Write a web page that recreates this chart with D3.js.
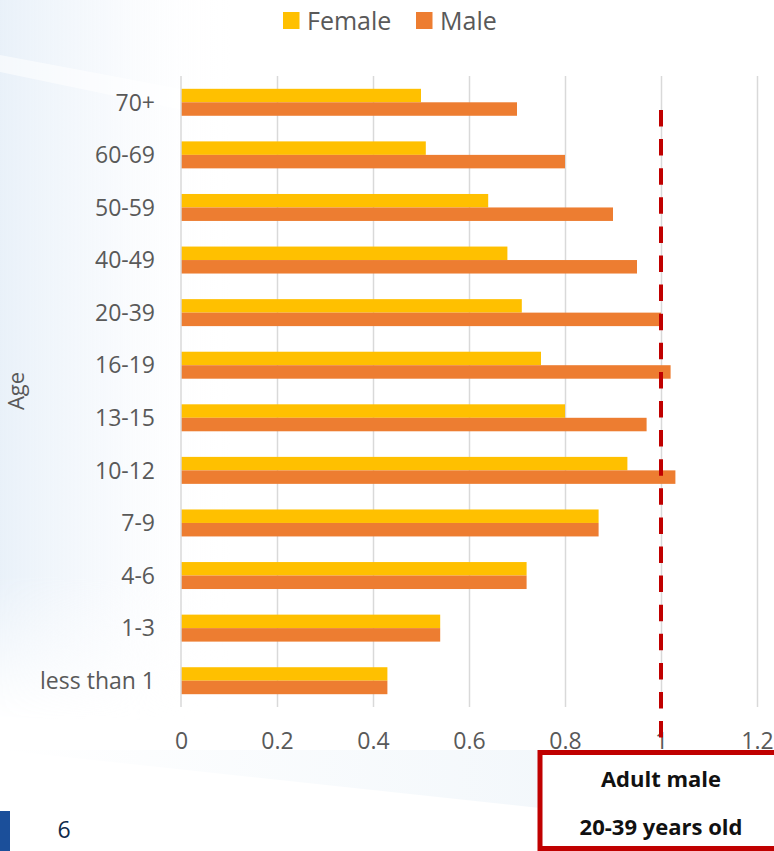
<!DOCTYPE html>
<html>
<head>
<meta charset="utf-8">
<script src="https://cdn.jsdelivr.net/npm/d3@7"></script>
<style>
  html, body { margin: 0; padding: 0; background: #ffffff; }
  svg { display: block; }
  text { font-family: "Open Sans", "Noto Sans", sans-serif; }
</style>
</head>
<body>
<svg id="chart" width="774" height="851"></svg>
<script>
// Age groups, top to bottom
const categories = ["70+", "60-69", "50-59", "40-49", "20-39", "16-19", "13-15", "10-12", "7-9", "4-6", "1-3", "less than 1"];
// Relative values per age group
const femaleValues = [0.5, 0.51, 0.64, 0.68, 0.71, 0.75, 0.8, 0.93, 0.87, 0.72, 0.54, 0.43];
const maleValues   = [0.7, 0.8, 0.9, 0.95, 1.0, 1.02, 0.97, 1.03, 0.87, 0.72, 0.54, 0.43];
const seriesNames = ["Female", "Male"];
const xTickValues = [0, 0.2, 0.4, 0.6, 0.8, 1, 1.2];
const referenceValue = 1;
const noteLines = ["Adult male", "20-39 years old"];
const pageNumber = "6";

const colors = { Female: "#FFC000", Male: "#ED7D31" };
const textGray = "#595959";

const svg = d3.select("#chart");

// ---- soft background decoration ----
const defs = svg.append("defs");
const leftGrad = defs.append("linearGradient").attr("id", "leftWash")
  .attr("x1", "0").attr("x2", "1").attr("y1", "0").attr("y2", "0");
leftGrad.append("stop").attr("offset", "0").attr("stop-color", "#e9f1f9").attr("stop-opacity", 1);
leftGrad.append("stop").attr("offset", "0.45").attr("stop-color", "#f3f7fc").attr("stop-opacity", 0.7);
leftGrad.append("stop").attr("offset", "1").attr("stop-color", "#ffffff").attr("stop-opacity", 0);

const fadeGrad = defs.append("linearGradient").attr("id", "vFade")
  .attr("x1", "0").attr("x2", "0").attr("y1", "0").attr("y2", "1");
fadeGrad.append("stop").attr("offset", "0").attr("stop-color", "#fff").attr("stop-opacity", 1);
fadeGrad.append("stop").attr("offset", "0.8").attr("stop-color", "#fff").attr("stop-opacity", 1);
fadeGrad.append("stop").attr("offset", "1").attr("stop-color", "#fff").attr("stop-opacity", 0);
defs.append("mask").attr("id", "washMask")
  .append("rect").attr("x", 0).attr("y", 0).attr("width", 230).attr("height", 720)
  .attr("fill", "url(#vFade)");

svg.append("rect").attr("x", 0).attr("y", 0).attr("width", 230).attr("height", 720)
  .attr("fill", "url(#leftWash)").attr("mask", "url(#washMask)");
// pale diagonal streak across the wash
svg.append("path")
  .attr("d", "M0,55 L230,98 L230,120 L0,72 Z")
  .attr("fill", "#ffffff").attr("opacity", 0.55);

const bandGrad = defs.append("linearGradient").attr("id", "bandWash")
  .attr("x1", "0").attr("x2", "1").attr("y1", "0").attr("y2", "0");
bandGrad.append("stop").attr("offset", "0").attr("stop-color", "#f2f7fb").attr("stop-opacity", 0);
bandGrad.append("stop").attr("offset", "1").attr("stop-color", "#f2f7fb").attr("stop-opacity", 0.9);
svg.append("path")
  .attr("d", "M0,750 L540,750 L540,808 Z")
  .attr("fill", "url(#bandWash)");

// ---- scales ----
const x = d3.scaleLinear().domain([0, 1.2]).range([181, 757]);
const y0 = d3.scaleBand().domain(categories).range([76, 707])
  .paddingInner(0.487).paddingOuter(0.2435);
const y1 = d3.scaleBand().domain(seriesNames).range([0, y0.bandwidth()]);

// ---- vertical gridlines ----
const grid = svg.append("g").attr("transform", "translate(0,707)")
  .call(d3.axisBottom(x).tickValues(xTickValues.slice(1)).tickSize(-631).tickFormat(""));
grid.select(".domain").remove();
grid.selectAll("line").attr("stroke", "#d9d9d9").attr("stroke-width", 1.5);

// ---- bars ----
const rows = categories.map((c, i) => ({ category: c, Female: femaleValues[i], Male: maleValues[i] }));
const groups = svg.append("g").selectAll("g").data(rows).join("g")
  .attr("transform", d => `translate(0,${y0(d.category)})`);
groups.selectAll("rect")
  .data(d => seriesNames.map(s => ({ key: s, value: d[s] })))
  .join("rect")
  .attr("x", x(0))
  .attr("y", d => y1(d.key))
  .attr("width", d => x(d.value) - x(0))
  .attr("height", y1.bandwidth())
  .attr("fill", d => colors[d.key]);

// ---- value axis line at zero ----
svg.append("line")
  .attr("x1", x(0)).attr("x2", x(0)).attr("y1", 76).attr("y2", 707)
  .attr("stroke", "#d9d9d9").attr("stroke-width", 1.5);

// ---- x axis labels ----
const xAxis = svg.append("g").attr("transform", "translate(0,707)")
  .call(d3.axisBottom(x).tickValues(xTickValues).tickSize(0).tickPadding(0)
    .tickFormat(d => String(d)));
xAxis.select(".domain").remove();
xAxis.selectAll("text")
  .attr("y", 42).attr("dy", 0)
  .attr("fill", textGray).attr("font-size", 23)
  .attr("font-family", "'Open Sans', sans-serif");

// ---- y axis labels ----
const yAxis = svg.append("g").attr("transform", `translate(${x(0)},0)`)
  .call(d3.axisLeft(y0).tickSize(0).tickPadding(26));
yAxis.select(".domain").remove();
yAxis.selectAll("text")
  .attr("fill", textGray).attr("font-size", 23).attr("dy", "0.36em")
  .attr("font-family", "'Open Sans', sans-serif");

// ---- axis title ----
svg.append("text")
  .attr("transform", "translate(24,391) rotate(-90)")
  .attr("text-anchor", "middle")
  .attr("fill", textGray).attr("font-size", 22)
  .text("Age");

// ---- legend ----
const legendItems = [
  { key: "Female", sx: 283, tx: 307 },
  { key: "Male", sx: 416, tx: 440 }
];
const legend = svg.append("g");
legend.selectAll("rect").data(legendItems).join("rect")
  .attr("x", d => d.sx).attr("y", 12).attr("width", 16.5).attr("height", 17)
  .attr("fill", d => colors[d.key]);
legend.selectAll("text").data(legendItems).join("text")
  .attr("x", d => d.tx).attr("y", 29.5)
  .attr("fill", textGray).attr("font-size", 25)
  .text(d => d.key);

// ---- reference line at 1 ----
svg.append("line")
  .attr("x1", x(referenceValue)).attr("x2", x(referenceValue))
  .attr("y1", 110).attr("y2", 752)
  .attr("stroke", "#C00000").attr("stroke-width", 4)
  .attr("stroke-dasharray", "16.5 12.6");

// ---- note box ----
svg.append("rect")
  .attr("x", 540).attr("y", 752.5).attr("width", 300).attr("height", 96)
  .attr("fill", "#ffffff").attr("stroke", "#C00000").attr("stroke-width", 5);
svg.append("g").selectAll("text").data(noteLines).join("text")
  .attr("x", x(referenceValue)).attr("y", (d, i) => 787 + i * 48)
  .attr("text-anchor", "middle")
  .attr("font-weight", 700).attr("font-size", 22).attr("fill", "#111111")
  .text(d => d);

// ---- page footer ----
svg.append("rect").attr("x", 0).attr("y", 811).attr("width", 10).attr("height", 40)
  .attr("fill", "#1b4f9a");
svg.append("text").attr("x", 57.5).attr("y", 838)
  .attr("fill", "#0f2a4a").attr("font-size", 23)
  .text(pageNumber);
</script>
</body>
</html>
